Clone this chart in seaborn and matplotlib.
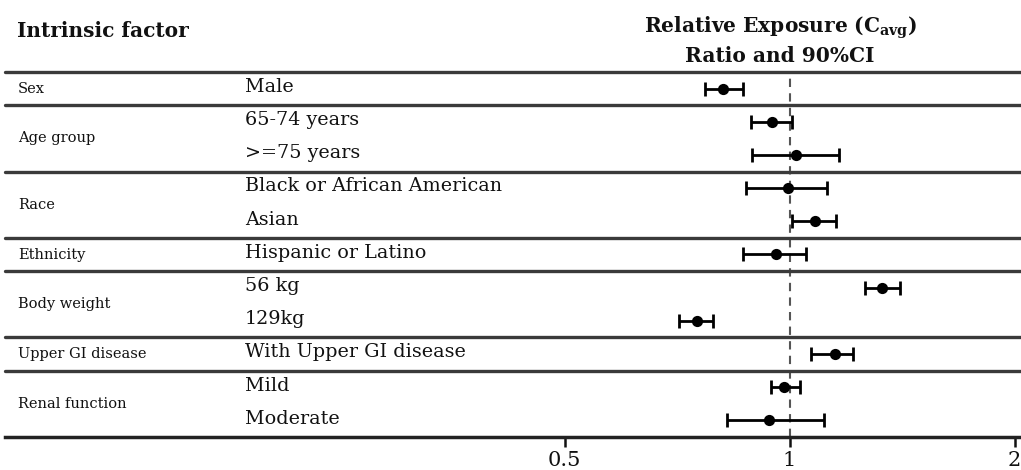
import numpy as np
import pandas as pd
import seaborn as sns
import matplotlib.pyplot as plt
from matplotlib.ticker import FixedLocator, NullLocator
import matplotlib.transforms as mtransforms

sns.set_theme(style="white")
plt.rcParams['font.family'] = ['DejaVu Serif']
plt.rcParams['mathtext.fontset'] = 'dejavuserif'

# forest plot data
groups = ['Sex', 'Age group', 'Race', 'Ethnicity', 'Body weight', 'Upper GI disease', 'Renal function']
group_sizes = [1, 2, 2, 1, 2, 1, 2]
subgroups = ['Male', '65-74 years', '>=75 years', 'Black or African American', 'Asian',
             'Hispanic or Latino', '56 kg', '129kg', 'With Upper GI disease', 'Mild', 'Moderate']
ratio = [0.815, 0.947, 1.019, 0.996, 1.082, 0.959, 1.329, 0.751, 1.150, 0.983, 0.940]
ci_low = [0.771, 0.887, 0.890, 0.874, 1.007, 0.866, 1.262, 0.712, 1.067, 0.945, 0.824]
ci_high = [0.867, 1.009, 1.166, 1.123, 1.153, 1.051, 1.405, 0.791, 1.217, 1.033, 1.112]
xticks = [0.5, 1, 2]
xticklabels = ['0.5', '1', '2']

df = pd.DataFrame({'subgroup': subgroups, 'ratio': ratio, 'lo': ci_low, 'hi': ci_high})
df['row'] = np.arange(len(df))

W, H = 1021, 470
fig = plt.figure(figsize=(W / 100, H / 100), dpi=100)
ax = fig.add_axes([5 / W, 33 / H, 1016 / W, 365 / H])

ax.set_xscale('log', base=2)
ax.set_xlim(0.0892, 2.04)
ax.set_ylim(len(df) - 0.5, -0.5)

# reference line at ratio = 1
ax.axvline(1, color='#555555', ls=(0, (4, 3)), lw=1.5, zorder=1)

# group separators
ends = np.cumsum(group_sizes)
starts = ends - np.array(group_sizes)
for y in [-0.5] + list(ends[:-1] - 0.5):
    ax.axhline(y, color='#3a3a3a', lw=2.4, zorder=2, clip_on=False)

# CI bars + point estimates
ax.errorbar(df['ratio'], df['row'], xerr=[df['ratio'] - df['lo'], df['hi'] - df['ratio']],
            fmt='none', ecolor='black', elinewidth=2, capsize=5, capthick=2, zorder=3)
sns.scatterplot(data=df, x='ratio', y='row', color='black', s=65, edgecolor='black',
                linewidth=0, ax=ax, zorder=4, legend=False)

# text columns
trans = mtransforms.blended_transform_factory(ax.transAxes, ax.transData)
for g, s, e in zip(groups, starts, ends):
    ax.text(0.0128, (s + e - 1) / 2, g, transform=trans, ha='left', va='center',
            fontsize=10.5, color='#111111')
for r, lab in zip(df['row'], df['subgroup']):
    ax.text(0.236, r - 0.05, lab, transform=trans, ha='left', va='center',
            fontsize=13.8, color='#111111')

# headers
fig.text(17 / W, 1 - 31 / H, 'Intrinsic factor', ha='left', va='center',
         fontsize=14.5, fontweight='bold', color='#111111')
fig.text(780 / W, 1 - 28 / H, r'Relative Exposure (C$_{\mathbf{avg}}$)', ha='center', va='center',
         fontsize=14.5, fontweight='bold', color='#111111')
fig.text(780 / W, 1 - 56 / H, 'Ratio and 90%CI', ha='center', va='center',
         fontsize=14.5, fontweight='bold', color='#111111')

# axis styling
for side in ['left', 'right', 'top']:
    ax.spines[side].set_visible(False)
ax.spines['bottom'].set_color('#222222')
ax.spines['bottom'].set_linewidth(2.5)
ax.xaxis.set_major_locator(FixedLocator(xticks))
ax.xaxis.set_minor_locator(NullLocator())
ax.set_xticklabels(xticklabels)
ax.tick_params(axis='x', bottom=True, direction='out', length=7, width=1.8,
               labelsize=15, pad=3, colors='#111111')
ax.set_yticks([])
ax.set_xlabel('')
ax.set_ylabel('')
ax.grid(False)

fig.savefig('out.png', dpi=100)
